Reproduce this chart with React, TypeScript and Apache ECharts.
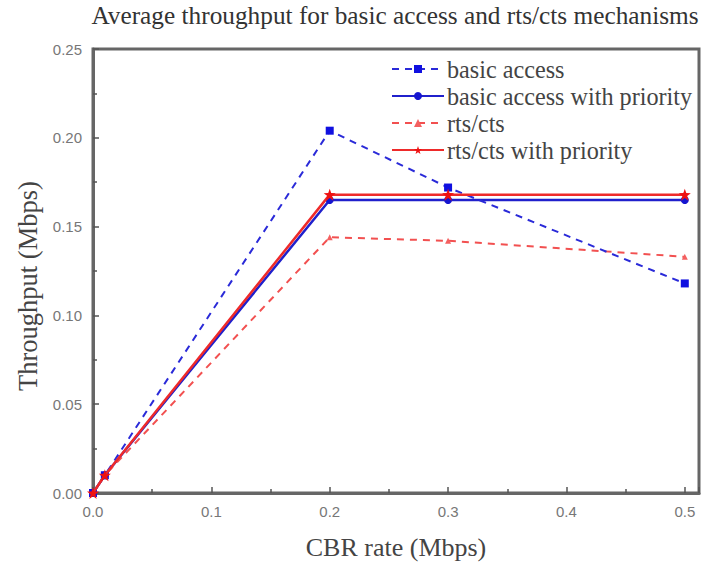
import React, { useEffect, useRef } from "react";
import * as echarts from "echarts";

const cbrRates = [0, 0.01, 0.2, 0.3, 0.5];
const basicAccess = [0, 0.01, 0.204, 0.172, 0.118];
const basicAccessPriority = [0, 0.01, 0.165, 0.165, 0.165];
const rtsCts = [0, 0.01, 0.144, 0.142, 0.133];
const rtsCtsPriority = [0, 0.01, 0.168, 0.168, 0.168];
const seriesNames = ["basic access", "basic access with priority", "rts/cts", "rts/cts with priority"];

const pairs = (ys: number[]) => cbrRates.map((x, i) => [x, ys[i]]);

export default function App() {
  const ref = useRef<HTMLDivElement>(null);
  useEffect(() => {
    if (!ref.current) return;
    const chart = echarts.init(ref.current, undefined, { renderer: "svg" });
    const serif = "serif";
    const sans = "sans-serif";
    const axisCommon = {
      axisLine: { show: true, onZero: false, lineStyle: { color: "#666", width: 3 } },
      axisTick: { show: true, inside: true, length: 6, lineStyle: { color: "#555", width: 1.5 } },
      minorTick: { show: true, splitNumber: 2, length: 4, lineStyle: { color: "#555", width: 1.5 } },
      splitLine: { show: false },
    };
    chart.setOption({
      animation: false,
      backgroundColor: "#fff",
      textStyle: { fontFamily: serif },
      title: {
        text: "Average throughput for basic access and rts/cts mechanisms",
        left: 390,
        textAlign: "center",
        top: -3,
        textStyle: { fontFamily: serif, fontSize: 25.3, fontWeight: "normal", color: "#333" },
      },
      grid: { left: 93, right: 12, top: 49, bottom: 72, show: true, borderColor: "#666", borderWidth: 3, backgroundColor: "transparent" },
      legend: {
        orient: "vertical",
        left: 386,
        top: 52,
        itemWidth: 52,
        itemHeight: 10,
        itemGap: 3,
        data: seriesNames,
        textStyle: { fontFamily: serif, fontSize: 24.2, fontWeight: "normal", color: "#444", padding: [0, 0, 0, -2] },
      },
      xAxis: {
        ...axisCommon,
        type: "value",
        min: 0,
        max: 0.512,
        interval: 0.1,
        name: "CBR rate (Mbps)",
        nameLocation: "middle",
        nameGap: 41,
        nameTextStyle: { fontFamily: serif, fontSize: 26, fontWeight: "normal", color: "#444" },
        axisLabel: {
          fontFamily: sans,
          fontSize: 15,
          color: "#777",
          margin: 11,
          showMaxLabel: false,
          formatter: (v: number) => v.toFixed(1),
        },
      },
      yAxis: {
        ...axisCommon,
        type: "value",
        min: 0,
        max: 0.25,
        interval: 0.05,
        name: "Throughput (Mbps)",
        nameLocation: "middle",
        nameGap: 52,
        nameTextStyle: { fontFamily: serif, fontSize: 26.5, fontWeight: "normal", color: "#444", padding: [0, 30, 0, 0] },
        axisLabel: {
          fontFamily: sans,
          fontSize: 15,
          color: "#777",
          margin: 11,
          formatter: (v: number) => v.toFixed(2),
        },
      },
      series: [
        {
          name: seriesNames[0],
          type: "line",
          data: pairs(basicAccess),
          symbol: "rect",
          symbolSize: 8,
          color: "#1010e0",
          lineStyle: { type: [7, 6], width: 2, color: "#2a2ad8" },
          z: 3,
        },
        {
          name: seriesNames[1],
          type: "line",
          data: pairs(basicAccessPriority),
          symbol: "circle",
          symbolSize: 8,
          color: "#1515d0",
          lineStyle: { type: "solid", width: 2.5, color: "#2020cc" },
          z: 2,
        },
        {
          name: seriesNames[2],
          type: "line",
          data: pairs(rtsCts),
          symbol: "triangle",
          symbolSize: 6,
          color: "#f46060",
          lineStyle: { type: [7, 6], width: 2, color: "#f25050" },
          z: 2,
        },
        {
          name: seriesNames[3],
          type: "line",
          data: pairs(rtsCtsPriority),
          symbol: "path://M0,-10 L2.35,-3.24 L9.51,-3.09 L3.8,1.24 L5.88,8.09 L0,4 L-5.88,8.09 L-3.8,1.24 L-9.51,-3.09 L-2.35,-3.24 Z",
          symbolSize: 12,
          color: "#ee1111",
          lineStyle: { type: "solid", width: 2.5, color: "#ee2a2a" },
          z: 4,
        },
      ],
    });
    return () => chart.dispose();
  }, []);
  return <div ref={ref} style={{ width: 711, height: 565, position: "absolute", left: 0, top: 0 }} />;
}
